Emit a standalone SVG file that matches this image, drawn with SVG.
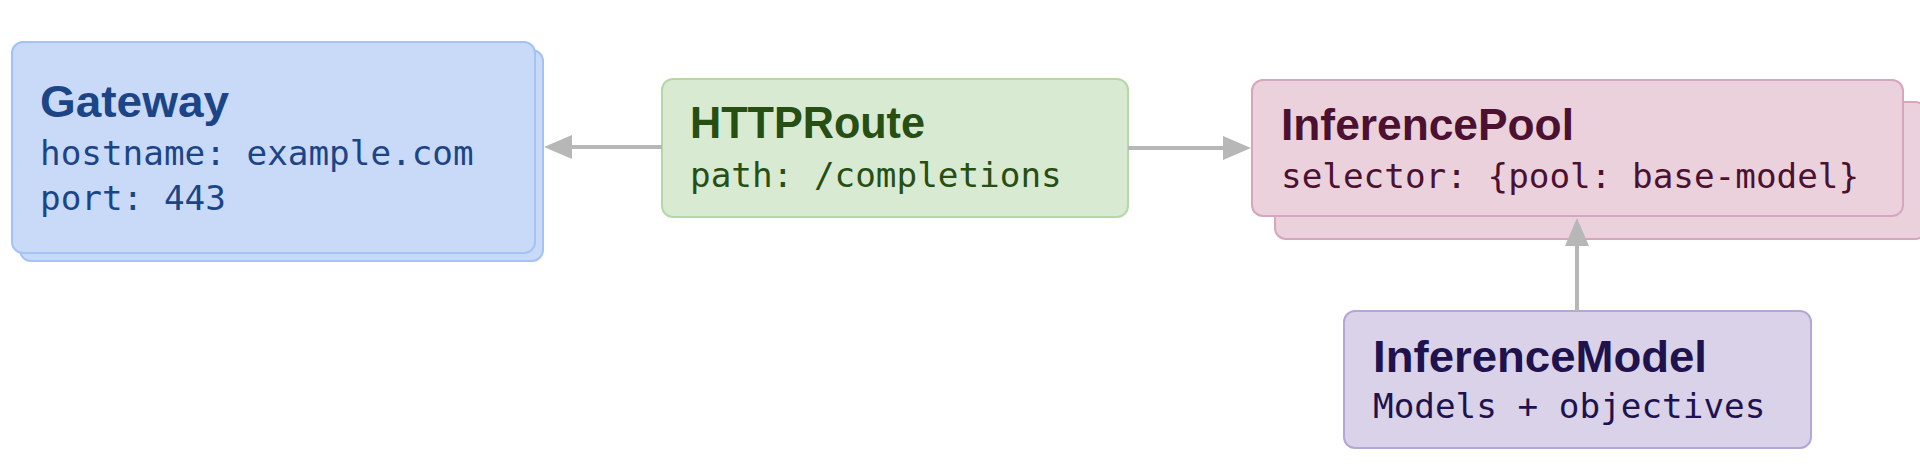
<svg xmlns="http://www.w3.org/2000/svg" width="1920" height="468" viewBox="0 0 1920 468">
  <style>
    .title { font-family: "Liberation Sans", Arial, sans-serif; font-weight: 700; font-size: 44px; }
    .mono { font-family: "DejaVu Sans Mono", "Liberation Mono", monospace; font-size: 34.3px; }
    .blue rect { fill: #c9daf8; stroke: #a4c2f4; stroke-width: 2; }
    .blue text { fill: #1c4587; }
    .green rect { fill: #d9ead3; stroke: #b6d7a8; stroke-width: 2; }
    .green text { fill: #274e13; }
    .pink rect { fill: #ead1dc; stroke: #d5a6bd; stroke-width: 2; }
    .pink text { fill: #4c1130; }
    .purple rect { fill: #d9d2e9; stroke: #b4a7d6; stroke-width: 2; }
    .purple text { fill: #20124d; }
    .edge { stroke: #b7b7b7; stroke-width: 4; fill: none; marker-end: url(#arrow); }
  </style>
  <defs>
    <marker id="arrow" markerUnits="userSpaceOnUse" markerWidth="28" markerHeight="24" refX="8" refY="12" orient="auto">
      <path d="M0,0 L28,12 L0,24 Z" fill="#b7b7b7"/>
    </marker>
  </defs>
  <rect width="1920" height="468" fill="#ffffff"/>

  <g id="gateway" class="blue">
    <rect x="20" y="50" width="523" height="211" rx="11"/>
    <rect x="12" y="42" width="523" height="211" rx="11"/>
    <text class="title" x="40" y="117" textLength="189" lengthAdjust="spacingAndGlyphs">Gateway</text>
    <text class="mono" x="40" y="165">hostname: example.com</text>
    <text class="mono" x="40" y="210">port: 443</text>
  </g>

  <g id="httproute" class="green">
    <rect x="662" y="79" width="466" height="138" rx="11"/>
    <text class="title" x="690" y="138" textLength="235" lengthAdjust="spacingAndGlyphs">HTTPRoute</text>
    <text class="mono" x="690" y="187">path: /completions</text>
  </g>

  <g id="inferencepool" class="pink">
    <rect x="1275" y="102" width="651" height="137" rx="11"/>
    <rect x="1252" y="80" width="651" height="136" rx="11"/>
    <text class="title" x="1281" y="140" textLength="293" lengthAdjust="spacingAndGlyphs">InferencePool</text>
    <text class="mono" x="1281" y="188">selector: {pool: base-model}</text>
  </g>

  <g id="inferencemodel" class="purple">
    <rect x="1344" y="311" width="467" height="137" rx="11"/>
    <text class="title" x="1373" y="372" textLength="334" lengthAdjust="spacingAndGlyphs">InferenceModel</text>
    <text class="mono" x="1373" y="418">Models + objectives</text>
  </g>

  <g id="connectors">
    <line class="edge" x1="662" y1="147" x2="564" y2="147"/>
    <line class="edge" x1="1128" y1="148" x2="1231" y2="148"/>
    <line class="edge" x1="1577" y1="311" x2="1577" y2="238"/>
  </g>
</svg>
